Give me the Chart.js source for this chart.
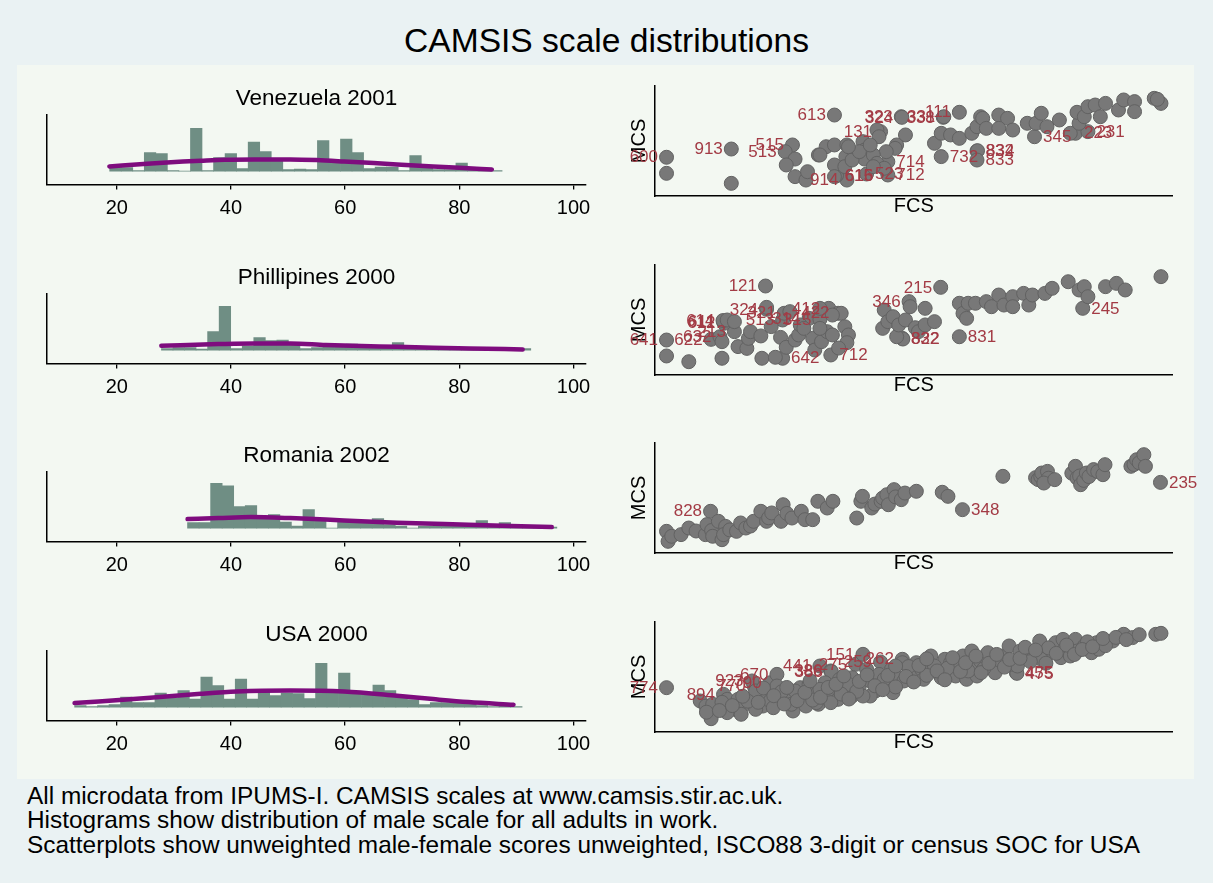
<!DOCTYPE html>
<html>
<head>
<meta charset="utf-8">
<title>CAMSIS scale distributions</title>
<script src="https://cdn.jsdelivr.net/npm/chart.js@4.4.1/dist/chart.umd.min.js"></script>
<style>
html,body{margin:0;padding:0;}
body{width:1213px;height:883px;background:#EAF2F3;position:relative;overflow:hidden;font-family:"Liberation Sans",Arial,Helvetica,sans-serif;color:#000;}
#inner{position:absolute;left:17px;top:65px;width:1177px;height:714px;background:#F3F8F2;}
#mainTitle{position:absolute;left:0;top:21px;width:1213px;text-align:center;font-size:33.6px;line-height:40px;}
#notes{position:absolute;left:27px;top:784px;font-size:24.4px;line-height:24.3px;white-space:nowrap;}
canvas{position:absolute;}
</style>
</head>
<body>
<div id="inner"></div>
<div id="mainTitle">CAMSIS scale distributions</div>
<div id="notes"></div>
<script>
// ---------------- DATA ----------------
const panelTitles = ["Venezuela 2001", "Phillipines 2000", "Romania 2002", "USA 2000"];
const histTicks = [20, 40, 60, 80, 100];
const noteLines = [
  "All microdata from IPUMS-I. CAMSIS scales at www.camsis.stir.ac.uk.",
  "Histograms show distribution of male scale for all adults in work.",
  "Scatterplots show unweighted male-female scores unweighted, ISCO88 3-digit or census SOC for USA"
];

// histogram bins: first bin edge, bin width, bar heights (density, %)
const venBinStart = 18.75, venBinWidth = 2.022;
const venHist = [0.7,0.7,0.1,3.7,3.5,0.1,0,8.6,0.1,2.7,3.5,0.5,5.8,3.9,2.1,0.3,0.4,0.3,6.1,2.1,6.4,3.7,0.5,0.8,0.8,0.1,3.1,0.7,0.3,0.3,1.6,0.5,0.3,0.1];
const phiBinStart = 27.82, phiBinWidth = 2.022;
const phiHist = [0.3,0.5,0.5,0.2,3.7,8.8,0.3,0.8,2.5,1.9,2.0,1.0,0.3,0.5,1.0,0.8,1.2,0.5,0.5,0.5,1.5,0.5,0.5,0.5,0.3,0.5,0.3,0.3,0.3,0.3,0.3,0.3];
const romBinStart = 32.39, romBinWidth = 2.022;
const romHist = [1.1,1.1,9.0,8.5,4.3,4.5,2.2,2.7,1.2,0.4,3.7,1.9,0,1.3,1.2,1.5,1.9,0.7,0.4,0,0.4,0.4,0.4,0.4,0.4,1.5,0.4,1.1,0.4,0.2,0.2,0.2];
const usaBinStart = 12.61, usaBinWidth = 2.010;
const usaHist = [0.3,0.1,0.3,0.5,2.0,0.9,0.9,2.8,1.8,3.3,1.6,6.0,4.3,1.6,5.6,1.6,3.3,2.3,2.8,2.7,1.7,8.8,3.3,6.8,3.1,2.5,4.4,3.3,2.3,1.5,0.5,0.9,0.9,0.8,0.7,0.3,0.1,0.3,0.1];

// kernel density curves
const venKdX = [18.7,25.3,31.6,34.7,38.9,44.1,50.4,55.0,59.8,65.0,69.1,75.4,80.0,85.7];
const venKdY = [0.93,1.47,1.9,2.07,2.27,2.33,2.33,2.2,1.93,1.6,1.33,0.93,0.65,0.33];
const phiKdX = [27.8,37.8,44.1,50.4,56.6,62.9,69.1,75.4,81.7,91.1];
const phiKdY = [0.87,1.2,1.33,1.33,1.0,0.8,0.67,0.47,0.33,0.13];
const romKdX = [32.4,37.8,43.5,50.4,59.8,69.1,81.6,96.2];
const romKdY = [1.8,2.0,2.2,2.0,1.53,1.07,0.67,0.2];
const usaKdX = [12.6,25.3,34.7,41.0,50.4,59.8,69.1,75.4,81.6,89.5];
const usaKdY = [0.8,1.8,2.67,3.13,3.33,3.13,2.27,1.6,1.0,0.47];

// scatter points [FCS, MCS]
const venPoints = [[2.3,20.6],[14.8,11.5],[27.1,33.6],[25.4,28.2],[27.1,17.6],[29.2,14.5],[29.5,22.1],[31.6,37.3],[33.1,44.8],[34.7,46.4],[34.7,28.2],[34.7,17.6],[37.1,46.4],[36.9,35.8],[38.8,37.3],[40.2,49.4],[40.5,41.8],[40.5,33.6],[42.9,60.0],[43.3,53.9],[48.4,55.5],[46.7,46.4],[46.4,43.3],[44.7,40.3],[42.2,37.3],[42.9,29.7],[44.3,25.2],[42.2,26.7],[36.7,26.7],[38.1,32.7],[39.5,40.3],[41.6,46.4],[31.9,37.3],[37.4,44.8],[54.0,47.9],[55.3,57.0],[57.1,55.5],[58.8,52.4],[61.2,57.0],[62.2,63.0],[62.9,72.1],[63.3,70.6],[64.0,61.5],[66.4,73.6],[68.1,70.6],[66.4,61.5],[69.1,60.0],[71.9,66.1],[73.6,66.1],[74.6,75.2],[75.7,63.0],[78.1,69.1],[80.2,57.0],[81.9,66.1],[81.5,76.1],[82.9,72.1],[83.6,81.2],[85.0,82.7],[86.0,72.1],[87.0,84.2],[89.5,78.2],[90.5,87.3],[92.6,85.8],[92.6,76.7],[96.4,88.8],[97.7,84.2],[97.0,87.9]];
const venLabelPoints = [[2.3,35.2],[14.8,42.7],[26.6,46.4],[25.2,40.3],[37.1,14.5],[35.0,18.2],[35.1,18.8],[34.7,73.6],[40.9,20.0],[43.6,58.5],[45.0,19.1],[45.0,31.2],[47.6,72.1],[47.7,71.5],[55.7,71.5],[55.8,72.1],[58.8,76.1],[55.3,35.8],[62.2,40.9],[62.3,41.2],[62.2,32.7],[73.3,53.9],[81.2,57.0],[83.6,58.5]];
const venLabels = ["600","913","515","513","914","615","616","613","523","131","712","714","323","324","338","331","111","732","832","834","833","345","223","231"];
const venLabelPos = [9,9,9,9,9,3,3,9,3,9,3,3,9,9,9,9,9,3,3,3,3,3,3,3];

const phiPoints = [[2.3,17.3],[6.6,12.1],[13.0,30.3],[13.0,15.2],[14.0,50.0],[15.4,48.5],[16.1,25.8],[17.8,24.2],[18.1,33.3],[18.5,39.4],[20.5,35.5],[20.7,15.2],[21.6,61.5],[23.3,16.1],[24.3,34.2],[25.4,25.2],[27.1,31.8],[27.8,36.4],[28.1,45.5],[30.5,33.3],[30.9,22.7],[32.2,30.3],[33.3,39.4],[34.3,36.4],[36.0,56.1],[36.7,43.9],[37.4,36.4],[37.1,29.4],[34.3,54.5],[31.9,60.6],[26.1,57.6],[28.8,42.4],[31.9,42.4],[22.5,44.0],[35.5,24.5],[44.0,42.4],[44.3,59.1],[45.0,48.5],[46.0,53.0],[46.7,34.8],[47.1,45.5],[48.4,50.0],[49.3,62.1],[50.3,43.0],[50.9,39.4],[52.2,60.6],[52.2,45.5],[54.0,48.5],[58.8,65.2],[59.5,56.0],[60.2,51.5],[60.5,65.2],[61.9,65.2],[64.0,66.7],[65.0,62.1],[66.4,72.7],[67.4,63.6],[69.1,71.2],[69.1,62.1],[71.2,74.2],[72.2,63.6],[72.9,72.7],[75.3,74.2],[76.7,78.8],[79.8,84.8],[81.9,77.3],[82.9,80.3],[83.6,71.2],[87.0,80.3],[89.1,83.3],[90.8,77.3],[97.7,89.4]];
const phiLabelPoints = [[2.3,31.8],[10.9,32.4],[12.6,34.8],[15.4,39.4],[13.3,48.5],[13.4,47.0],[13.2,49.5],[21.6,59.7],[21.4,80.9],[24.7,50.0],[25.0,56.1],[33.6,60.6],[35.4,56.1],[29.8,51.5],[31.9,50.6],[55.2,79.7],[49.1,66.7],[47.8,33.3],[47.9,32.7],[58.8,34.8],[82.6,60.6],[24.7,15.2],[34.0,18.2]];
const phiLabels = ["641","622","632","213","611","612","614","324","121","513","321","412","422","314","315","215","346","832","822","831","245","642","712"];
const phiLabelPos = [9,9,9,9,9,9,9,9,9,9,9,9,9,9,9,9,9,3,3,3,3,3,3];

const romPoints = [[2.3,19.7],[2.6,10.6],[3.3,15.2],[5.1,16.7],[6.6,22.7],[8.0,20.0],[9.8,16.7],[10.1,25.8],[11.0,20.5],[11.2,15.2],[12.3,28.8],[13.0,12.1],[13.7,24.2],[13.3,16.7],[14.5,21.0],[15.8,19.7],[16.6,27.3],[17.6,22.7],[18.5,24.5],[19.1,28.8],[20.5,37.9],[21.6,28.8],[22.0,32.0],[22.6,36.4],[24.4,28.8],[24.8,43.9],[25.5,36.0],[26.5,31.8],[28.3,37.9],[29.0,30.3],[30.5,30.3],[31.5,47.0],[33.3,40.9],[34.4,47.0],[39.0,31.8],[39.8,47.0],[40.1,51.5],[41.9,40.9],[42.5,44.5],[43.7,47.0],[44.0,50.0],[44.8,53.0],[45.1,43.9],[46.2,57.6],[46.5,51.0],[47.6,48.5],[48.3,54.5],[50.5,56.1],[55.5,55.2],[56.6,51.5],[67.2,69.7],[73.5,68.5],[74.0,66.7],[74.5,69.5],[74.7,72.7],[75.8,74.2],[76.0,68.0],[75.1,63.6],[77.2,66.7],[80.5,72.5],[81.2,78.8],[81.5,68.2],[82.0,70.0],[82.2,62.1],[82.8,66.0],[83.3,72.7],[83.8,69.5],[84.7,75.8],[85.5,74.0],[86.5,71.2],[86.9,80.3],[91.9,78.8],[92.5,80.5],[93.0,84.8],[93.5,82.0],[94.4,89.4],[94.7,78.8]];
const romLabelPoints = [[10.8,37.9],[59.4,39.4],[97.6,64.2]];
const romLabels = ["828","348","235"];
const romLabelPos = [9,3,3];

const usaPoints = [[8.8,28.2],[9.9,23.6],[10.9,12.1],[11.9,22.1],[14.0,29.7],[15.4,20.6],[16.1,29.7],[17.4,25.2],[19.2,31.2],[20.9,23.6],[21.6,35.8],[22.3,28.2],[23.6,41.8],[24.3,29.7],[26.7,19.1],[26.1,32.7],[26.4,25.2],[28.1,40.3],[28.5,31.2],[29.8,43.3],[31.2,34.2],[31.6,25.2],[32.9,44.8],[34.0,35.8],[35.4,29.7],[35.7,47.9],[36.7,38.8],[38.1,49.4],[38.1,32.7],[39.5,41.8],[40.9,57.0],[41.6,46.4],[42.6,37.3],[43.3,52.4],[44.3,43.3],[45.7,57.0],[46.0,35.8],[47.1,49.4],[47.8,63.0],[48.1,46.4],[49.8,53.9],[50.5,63.0],[51.5,57.0],[51.9,47.9],[53.3,69.1],[53.3,57.0],[55.0,52.4],[56.0,66.1],[57.1,63.0],[58.1,50.9],[59.5,69.1],[60.2,47.9],[61.2,73.6],[61.5,60.0],[62.9,64.5],[64.3,72.1],[65.3,60.9],[67.1,69.1],[68.4,78.2],[69.1,61.5],[70.5,73.6],[71.9,67.6],[73.3,70.6],[74.3,82.7],[75.3,69.1],[76.4,72.1],[77.4,81.2],[78.8,84.2],[79.1,75.2],[81.2,84.2],[81.5,73.6],[82.9,78.2],[84.3,72.1],[85.3,81.2],[85.7,75.2],[88.4,82.7],[90.5,88.8],[92.2,85.8],[96.7,88.8],[97.7,89.7],[14.0,17.6],[16.7,16.1],[19.5,20.6],[22.9,22.1],[29.2,23.6],[34.0,26.7],[41.6,32.7],[37.4,43.3],[31.9,38.8],[27.1,37.3],[19.5,37.3],[11.2,25.2],[31.2,26.7],[40.2,32.7],[44.3,47.9],[54.0,60.0],[55.3,49.4],[58.8,60.0],[62.2,50.9],[65.7,53.9],[70.0,60.0],[74.6,66.1],[78.4,67.6],[80.2,69.1],[13.0,27.0],[18.0,28.0],[24.5,36.5],[30.5,29.0],[36.0,34.5],[39.0,37.0],[46.5,41.0],[49.0,59.5],[52.5,51.5],[56.5,58.0],[60.5,55.5],[63.5,57.5],[66.5,65.5],[72.5,64.0],[76.0,76.5],[83.5,82.0],[87.0,78.5],[10.0,18.0],[12.5,19.5],[15.0,24.0],[17.0,32.5],[20.0,27.0],[21.0,40.0],[23.0,33.0],[25.0,25.5],[25.5,40.5],[27.5,28.5],[29.0,36.0],[30.0,46.5],[32.0,31.5],[33.5,40.5],[35.0,43.5],[36.5,51.0],[37.5,30.0],[39.5,46.0],[41.0,52.0],[42.5,42.0],[44.0,38.5],[45.0,51.5],[46.5,60.0],[48.5,50.5],[50.0,45.5],[51.0,60.5],[52.5,66.5],[54.5,55.5],[56.0,47.5],[57.5,67.5],[59.0,55.0],[60.0,63.0],[62.0,69.0],[63.0,54.0],[64.5,62.5],[66.0,70.5],[67.5,59.0],[68.5,66.0],[70.5,67.0],[71.5,77.0],[73.5,74.5],[75.5,62.5],[77.5,71.5],[79.5,79.0],[81.0,70.5],[82.5,75.0],[84.5,77.5],[86.5,85.0],[89.0,86.0],[91.0,84.0],[93.5,88.5]];
const usaLabelPoints = [[2.3,40.3],[13.3,34.2],[19.2,41.8],[22.3,44.8],[18.8,46.4],[23.6,52.4],[31.9,60.0],[34.0,55.5],[34.1,54.9],[38.8,61.5],[40.2,70.6],[47.8,66.1],[43.6,63.6],[69.8,53.9],[69.9,53.3]];
const usaLabels = ["774","894","770","790","923","670","441","386","388","275","151","262","259","455","475"];
const usaLabelPos = [9,9,9,9,9,9,9,9,9,9,9,9,9,3,3];

// ---------------- RENDER ----------------
const FONT = '"Liberation Sans", Arial, Helvetica, sans-serif';
Chart.defaults.font.family = FONT;
Chart.defaults.color = '#000';
Chart.defaults.animation = false;

document.getElementById('notes').innerHTML = noteLines.map(t => '<div>' + t + '</div>').join('');

const HIST_X_MIN = 7.77, HIST_X_MAX = 102.2, HIST_Y_MIN = -2.7, HIST_Y_MAX = 11.3;
const BAR_COLOR = '#6F8E84', KD_COLOR = '#7E0C7E';
const MARKER_FILL = '#787878', MARKER_EDGE = '#626262', LABEL_COLOR = '#A33B45';

const pointLabels = {
  id: 'pointLabels',
  afterDatasetsDraw(chart) {
    const ctx = chart.ctx;
    chart.data.datasets.forEach((d, i) => {
      if (!d.labelTexts) return;
      const meta = chart.getDatasetMeta(i);
      ctx.save();
      ctx.font = '17px ' + FONT;
      ctx.fillStyle = LABEL_COLOR;
      ctx.textBaseline = 'middle';
      meta.data.forEach((el, j) => {
        const right = d.labelPos[j] === 3;
        ctx.textAlign = right ? 'left' : 'right';
        ctx.fillText(d.labelTexts[j], el.x + (right ? 8.5 : -8.5), el.y + 0.5);
      });
      ctx.restore();
    });
  }
};

function addCanvas(left, top, w, h) {
  const cv = document.createElement('canvas');
  cv.width = w; cv.height = h;
  cv.style.left = left + 'px'; cv.style.top = top + 'px';
  cv.style.width = w + 'px'; cv.style.height = h + 'px';
  document.body.appendChild(cv);
  return cv;
}

function makeHist(row, title, start, width, heights, kdX, kdY) {
  const cv = addCanvas(17, 75 + 178.5 * row, 599, 150);
  const bars = heights.map((h, i) => ({ x: start + width * (i + 0.5), y: h }));
  new Chart(cv, {
    type: 'bar',
    data: {
      datasets: [
        { type: 'line', data: kdX.map((x, i) => ({ x: x, y: kdY[i] })), borderColor: KD_COLOR, borderWidth: 4.5,
          pointRadius: 0, cubicInterpolationMode: 'monotone', fill: false, order: 0, borderCapStyle: 'round' },
        { type: 'bar', data: bars, backgroundColor: BAR_COLOR, borderWidth: 0,
          barPercentage: 1, categoryPercentage: 1, order: 1 }
      ]
    },
    options: {
      responsive: false, animation: false, devicePixelRatio: 1,
      layout: { padding: { left: 30, right: 30, top: 0, bottom: 0 } },
      plugins: {
        legend: { display: false }, tooltip: { enabled: false },
        title: { display: true, text: title, color: '#000', font: { size: 22.5, weight: 'normal', family: FONT },
                 padding: { top: 9.8, bottom: 3.0 } }
      },
      scales: {
        x: {
          type: 'linear', min: HIST_X_MIN, max: HIST_X_MAX, offset: false,
          afterBuildTicks: s => { s.ticks = histTicks.map(v => ({ value: v })); },
          afterFit: s => { s.height = 40.5; },
          grid: { display: true, drawOnChartArea: false, drawTicks: true, tickLength: 5, color: '#000', lineWidth: 1.3, offset: false },
          border: { display: true, color: '#000', width: 1.5 },
          ticks: { color: '#000', font: { size: 20 }, padding: 6.5, maxRotation: 0, autoSkip: false }
        },
        y: {
          type: 'linear', min: HIST_Y_MIN, max: HIST_Y_MAX,
          afterFit: s => { s.width = 0; },
          grid: { display: false }, border: { display: true, color: '#000', width: 1.5 },
          ticks: { display: false }
        }
      }
    }
  });
}

function makeScatter(row, pts, lpts, ltext, lpos) {
  const cv = addCanvas(616, 75 + 178.6 * row, 590, 150);
  const style = { pointRadius: 7, pointBackgroundColor: MARKER_FILL, pointBorderColor: MARKER_EDGE, pointBorderWidth: 1, showLine: false };
  new Chart(cv, {
    type: 'scatter',
    data: {
      datasets: [
        Object.assign({ data: pts.map(p => ({ x: p[0], y: p[1] })) }, style),
        Object.assign({ data: lpts.map(p => ({ x: p[0], y: p[1] })), labelTexts: ltext, labelPos: lpos }, style)
      ]
    },
    options: {
      responsive: false, animation: false, devicePixelRatio: 1,
      layout: { padding: { left: 0, right: 33.1, top: 11, bottom: 0 } },
      plugins: { legend: { display: false }, tooltip: { enabled: false } },
      scales: {
        x: {
          type: 'linear', min: 0, max: 100,
          afterFit: s => { s.height = 29; },
          grid: { display: false }, border: { display: true, color: '#000', width: 1.5 },
          ticks: { display: false },
          title: { display: true, text: 'FCS', color: '#000', font: { size: 20 }, padding: { top: 0, bottom: 6.3 } }
        },
        y: {
          type: 'linear', min: 0, max: 100,
          afterFit: s => { s.width = 38.6; },
          grid: { display: false }, border: { display: true, color: '#000', width: 1.5 },
          ticks: { display: false },
          title: { display: true, text: 'MCS', color: '#000', font: { size: 20 }, padding: { top: 11.6, bottom: 0 } }
        }
      }
    },
    plugins: [pointLabels]
  });
}

makeHist(0, panelTitles[0], venBinStart, venBinWidth, venHist, venKdX, venKdY);
makeHist(1, panelTitles[1], phiBinStart, phiBinWidth, phiHist, phiKdX, phiKdY);
makeHist(2, panelTitles[2], romBinStart, romBinWidth, romHist, romKdX, romKdY);
makeHist(3, panelTitles[3], usaBinStart, usaBinWidth, usaHist, usaKdX, usaKdY);

makeScatter(0, venPoints, venLabelPoints, venLabels, venLabelPos);
makeScatter(1, phiPoints, phiLabelPoints, phiLabels, phiLabelPos);
makeScatter(2, romPoints, romLabelPoints, romLabels, romLabelPos);
makeScatter(3, usaPoints, usaLabelPoints, usaLabels, usaLabelPos);
</script>
</body>
</html>
